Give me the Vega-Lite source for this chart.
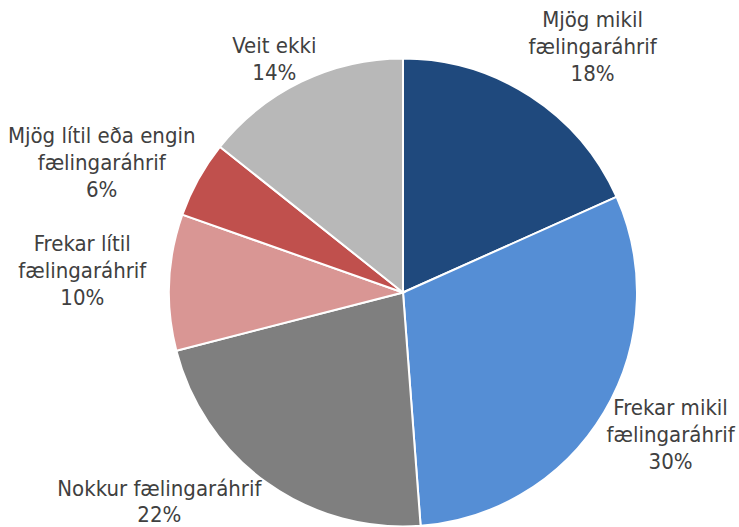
{
  "$schema": "https://vega.github.io/schema/vega-lite/v6.json",
  "width": 672,
  "height": 469,
  "autosize": {"type": "none"},
  "padding": {"left": 67, "top": 58, "right": 0, "bottom": 0},
  "background": "white",
  "config": {"view": {"stroke": null}},
  "data": {
    "values": [
      {"cat": "Mjög mikil fælingaráhrif", "label": "Mjög mikil\nfælingaráhrif\n18%", "value": 18.3, "order": 1},
      {"cat": "Frekar mikil fælingaráhrif", "label": "Frekar mikil\nfælingaráhrif\n30%", "value": 30.5, "order": 2},
      {"cat": "Nokkur fælingaráhrif", "label": "Nokkur fælingaráhrif\n22%", "value": 22.2, "order": 3},
      {"cat": "Frekar lítil fælingaráhrif", "label": "Frekar lítil\nfælingaráhrif\n10%", "value": 9.4, "order": 4},
      {"cat": "Mjög lítil eða engin fælingaráhrif", "label": "Mjög lítil eða engin\nfælingaráhrif\n6%", "value": 5.3, "order": 5},
      {"cat": "Veit ekki", "label": "Veit ekki\n14%", "value": 14.3, "order": 6}
    ]
  },
  "transform": [
    {"stack": "value", "groupby": [], "sort": [{"field": "order", "order": "ascending"}], "as": ["v0", "v1"]},
    {"calculate": "(datum.v0 + datum.v1) / 2", "as": "mid"}
  ],
  "layer": [
    {
      "mark": {"type": "arc", "outerRadius": 234, "stroke": "white", "strokeWidth": 2},
      "encoding": {
        "theta": {"field": "v0", "type": "quantitative", "scale": {"domain": [0, 100]}},
        "theta2": {"field": "v1"},
        "color": {
          "field": "cat",
          "type": "nominal",
          "scale": {
            "domain": ["Mjög mikil fælingaráhrif", "Frekar mikil fælingaráhrif", "Nokkur fælingaráhrif", "Frekar lítil fælingaráhrif", "Mjög lítil eða engin fælingaráhrif", "Veit ekki"],
            "range": ["#1f497d", "#558ed5", "#7f7f7f", "#d99694", "#c0504d", "#b8b8b8"]
          },
          "legend": null
        }
      }
    },
    {
      "transform": [{"filter": "datum.order == 1"}],
      "mark": {"type": "text", "radius": 310, "dx": 21, "dy": -12, "align": "center", "baseline": "middle", "lineBreak": "\n", "lineHeight": 27, "fontSize": 22, "font": "DejaVu Sans Condensed", "color": "#404040"},
      "encoding": {"theta": {"field": "mid", "type": "quantitative", "stack": null, "scale": {"domain": [0, 100]}}, "text": {"field": "label", "type": "nominal"}}
    },
    {
      "transform": [{"filter": "datum.order == 2"}],
      "mark": {"type": "text", "radius": 301, "dx": 9, "dy": -39, "align": "center", "baseline": "middle", "lineBreak": "\n", "lineHeight": 27, "fontSize": 22, "font": "DejaVu Sans Condensed", "color": "#404040"},
      "encoding": {"theta": {"field": "mid", "type": "quantitative", "stack": null, "scale": {"domain": [0, 100]}}, "text": {"field": "label", "type": "nominal"}}
    },
    {
      "transform": [{"filter": "datum.order == 3"}],
      "mark": {"type": "text", "radius": 310, "dx": -63, "dy": -55, "align": "center", "baseline": "middle", "lineBreak": "\n", "lineHeight": 26, "fontSize": 22, "font": "DejaVu Sans Condensed", "color": "#404040"},
      "encoding": {"theta": {"field": "mid", "type": "quantitative", "stack": null, "scale": {"domain": [0, 100]}}, "text": {"field": "label", "type": "nominal"}}
    },
    {
      "transform": [{"filter": "datum.order == 4"}],
      "mark": {"type": "text", "radius": 316, "dx": -5, "dy": -35, "align": "center", "baseline": "middle", "lineBreak": "\n", "lineHeight": 27, "fontSize": 22, "font": "DejaVu Sans Condensed", "color": "#404040"},
      "encoding": {"theta": {"field": "mid", "type": "quantitative", "stack": null, "scale": {"domain": [0, 100]}}, "text": {"field": "label", "type": "nominal"}}
    },
    {
      "transform": [{"filter": "datum.order == 5"}],
      "mark": {"type": "text", "radius": 325, "dx": -17, "dy": 1, "align": "center", "baseline": "middle", "lineBreak": "\n", "lineHeight": 27, "fontSize": 22, "font": "DejaVu Sans Condensed", "color": "#404040"},
      "encoding": {"theta": {"field": "mid", "type": "quantitative", "stack": null, "scale": {"domain": [0, 100]}}, "text": {"field": "label", "type": "nominal"}}
    },
    {
      "transform": [{"filter": "datum.order == 6"}],
      "mark": {"type": "text", "radius": 271, "dx": -11, "dy": -2, "align": "center", "baseline": "middle", "lineBreak": "\n", "lineHeight": 27, "fontSize": 22, "font": "DejaVu Sans Condensed", "color": "#404040"},
      "encoding": {"theta": {"field": "mid", "type": "quantitative", "stack": null, "scale": {"domain": [0, 100]}}, "text": {"field": "label", "type": "nominal"}}
    }
  ]
}
